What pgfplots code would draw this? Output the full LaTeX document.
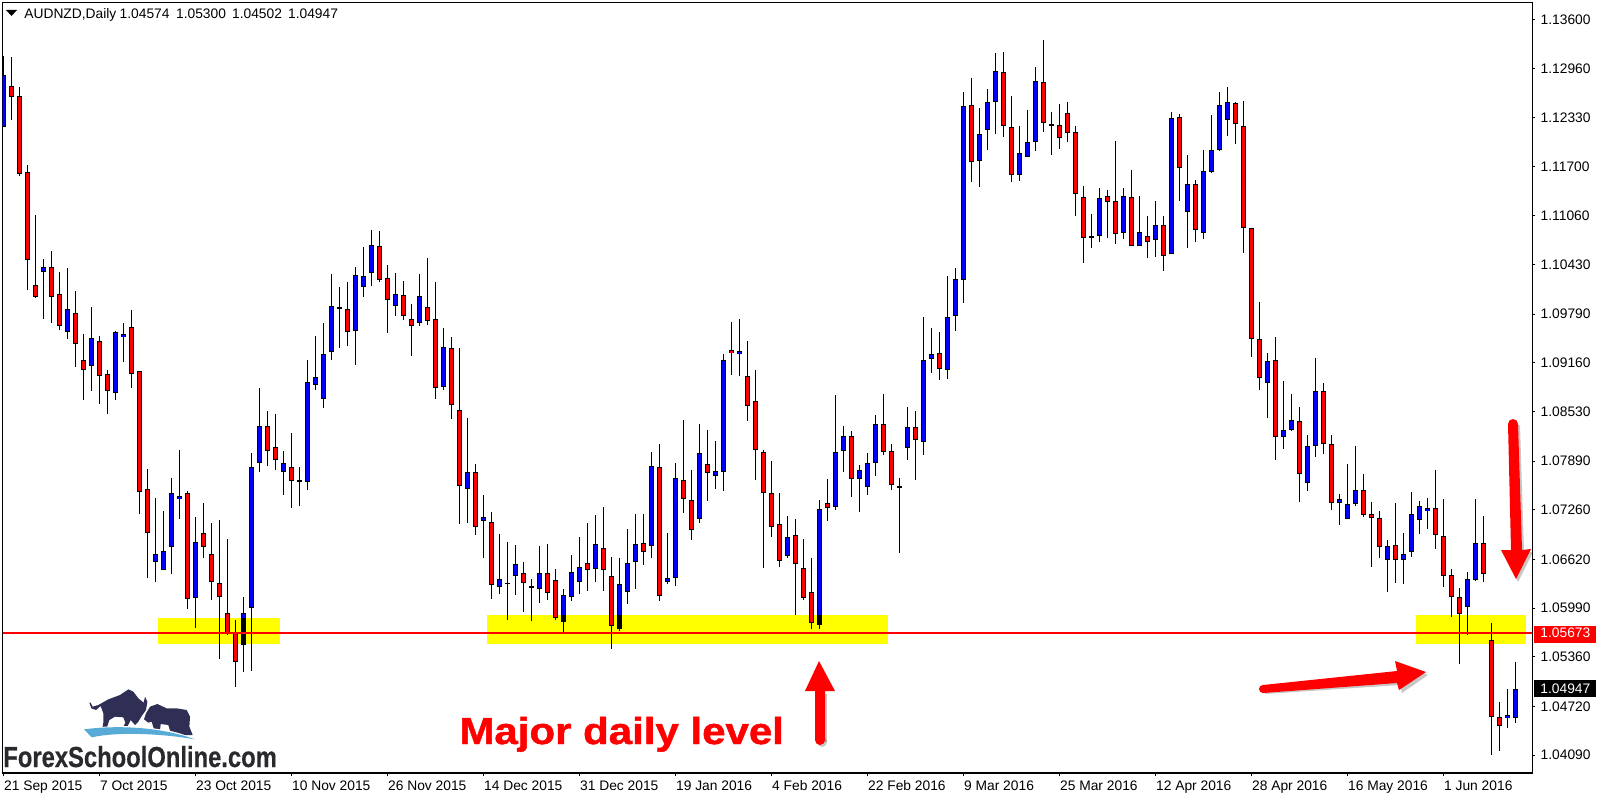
\documentclass[border=0pt]{standalone}
\usepackage{fontspec}
\usepackage{pgfplots}
\usepackage{pgfplotstable}
\pgfplotsset{compat=1.18}
\setmainfont{Liberation Sans}
\newfontfamily\heavyfont[UprightFont={* Bold}, FakeBold=1.2]{Liberation Sans}
\newfontfamily\logofont[UprightFont={* Bold}, FakeBold=0.5]{Liberation Sans}
\newcommand{\ticksize}{\fontsize{6.9}{8}\selectfont}

% daily bars, oldest first
\pgfplotstableread{
o h l c
1.12209 1.13127 1.12209 1.12881
1.12739 1.13114 1.12299 1.12597
1.12610 1.12726 1.11576 1.11602
1.11627 1.11718 1.10102 1.10490
1.10167 1.11071 1.09998 1.10011
1.10335 1.10503 1.09727 1.10399
1.10399 1.10606 1.09676 1.10011
1.10050 1.10335 1.09585 1.09637
1.09559 1.10386 1.09469 1.09857
1.09805 1.10089 1.09106 1.09404
1.09197 1.09533 1.08680 1.09068
1.09119 1.09882 1.08796 1.09481
1.09442 1.09507 1.08628 1.08990
1.09016 1.09068 1.08499 1.08796
1.08770 1.09572 1.08680 1.09559
1.09494 1.09676 1.09171 1.09533
1.09624 1.09843 1.08835 1.09016
1.09055 1.09055 1.07206 1.07490
1.07529 1.07788 1.06379 1.06960
1.06586 1.07413 1.06327 1.06689
1.06483 1.07245 1.06483 1.06728
1.06779 1.07671 1.06431 1.07477
1.07400 1.08033 1.07141 1.07439
1.07477 1.07503 1.05978 1.06107
1.06120 1.07167 1.05732 1.06844
1.06960 1.07348 1.06637 1.06779
1.06689 1.07090 1.06094 1.06327
1.06314 1.07129 1.05331 1.06133
1.05926 1.06883 1.05642 1.05655
1.05668 1.05835 1.04969 1.05293
1.05512 1.06133 1.05163 1.05926
1.05991 1.07995 1.05176 1.07814
1.07865 1.08835 1.07749 1.08344
1.08344 1.08537 1.07827 1.08020
1.08072 1.08499 1.07775 1.07904
1.07749 1.08020 1.07452 1.07865
1.07814 1.08253 1.07284 1.07633
1.07620 1.07814 1.07309 1.07646
1.07620 1.09197 1.07516 1.08913
1.08874 1.09507 1.08809 1.08977
1.08693 1.09676 1.08577 1.09275
1.09300 1.10309 1.09197 1.09895
1.09882 1.10141 1.09352 1.09857
1.09857 1.10205 1.09378 1.09559
1.09572 1.10399 1.09132 1.10296
1.10141 1.10658 1.10011 1.10283
1.10322 1.10877 1.10154 1.10684
1.10671 1.10865 1.10205 1.10231
1.10257 1.10425 1.09546 1.09973
1.09895 1.10322 1.09766 1.10050
1.10037 1.10218 1.09714 1.09766
1.09727 1.09921 1.09249 1.09637
1.09676 1.10309 1.09637 1.10024
1.09882 1.10516 1.09650 1.09701
1.09727 1.10205 1.08693 1.08835
1.08848 1.09611 1.08809 1.09365
1.09352 1.09494 1.08434 1.08615
1.08550 1.09352 1.07077 1.07568
1.07529 1.08447 1.07090 1.07749
1.07749 1.07852 1.06934 1.07038
1.07115 1.07452 1.06637 1.07167
1.07103 1.07232 1.06107 1.06288
1.06262 1.06947 1.06172 1.06366
1.06314 1.06844 1.05835 1.06314
1.06405 1.06805 1.06159 1.06560
1.06444 1.06586 1.05939 1.06314
1.06275 1.06366 1.05822 1.06262
1.06237 1.06792 1.06055 1.06444
1.06444 1.06818 1.06094 1.06185
1.06353 1.06495 1.05835 1.05861
1.05810 1.06237 1.05681 1.06159
1.06133 1.06676 1.06081 1.06456
1.06327 1.06909 1.06172 1.06521
1.06573 1.07090 1.06210 1.06483
1.06495 1.07193 1.06327 1.06818
1.06766 1.07296 1.06210 1.06483
1.06405 1.06650 1.05461 1.05758
1.05719 1.06637 1.05694 1.06301
1.06198 1.07012 1.06042 1.06573
1.06586 1.07206 1.06237 1.06818
1.06831 1.07206 1.06547 1.06715
1.06792 1.08007 1.06637 1.07827
1.07814 1.08111 1.06081 1.06146
1.06327 1.06960 1.06301 1.06379
1.06379 1.07865 1.06275 1.07671
1.07646 1.08421 1.07219 1.07400
1.07387 1.07775 1.06870 1.06999
1.07141 1.08369 1.07090 1.07995
1.07852 1.08292 1.07374 1.07736
1.07697 1.08150 1.07529 1.07762
1.07749 1.09275 1.07503 1.09197
1.09326 1.09688 1.09003 1.09287
1.09275 1.09727 1.08990 1.09313
1.08990 1.09442 1.08408 1.08602
1.08667 1.09068 1.07646 1.08033
1.08007 1.08033 1.06508 1.07477
1.07477 1.07891 1.06909 1.07038
1.07077 1.07477 1.06521 1.06599
1.06663 1.07180 1.06637 1.06909
1.06934 1.07141 1.05900 1.06560
1.06508 1.06883 1.06094 1.06120
1.06198 1.06637 1.05719 1.05797
1.05771 1.07387 1.05719 1.07271
1.07348 1.07658 1.07115 1.07284
1.07296 1.08744 1.07258 1.08007
1.08020 1.08344 1.07749 1.08214
1.08214 1.08279 1.07426 1.07658
1.07658 1.07839 1.07232 1.07775
1.07555 1.07995 1.07452 1.07865
1.07865 1.08486 1.07697 1.08369
1.08369 1.08757 1.07969 1.08007
1.08020 1.08111 1.07516 1.07581
1.07568 1.07671 1.06702 1.07542
1.08059 1.08589 1.07904 1.08331
1.08331 1.08537 1.07646 1.08163
1.08137 1.09753 1.07969 1.09197
1.09210 1.09611 1.09029 1.09275
1.09287 1.09559 1.08938 1.09081
1.09068 1.10283 1.08951 1.09753
1.09766 1.10386 1.09572 1.10244
1.10231 1.12662 1.09934 1.12481
1.12494 1.12843 1.11498 1.11757
1.11770 1.12455 1.11433 1.12119
1.12170 1.12700 1.11912 1.12532
1.12532 1.13166 1.12119 1.12933
1.12920 1.13179 1.12080 1.12222
1.12209 1.12610 1.11498 1.11589
1.11589 1.12222 1.11511 1.11873
1.11821 1.12429 1.11821 1.12015
1.12015 1.12985 1.11899 1.12804
1.12791 1.13334 1.12144 1.12261
1.12248 1.12403 1.11847 1.12222
1.12235 1.12506 1.11925 1.12067
1.12390 1.12532 1.12015 1.12132
1.12144 1.12222 1.11058 1.11343
1.11304 1.11446 1.10451 1.10774
1.10774 1.11084 1.10645 1.10800
1.10800 1.11420 1.10723 1.11291
1.11317 1.11395 1.10774 1.11240
1.11253 1.12028 1.10697 1.10826
1.10839 1.11420 1.10761 1.11317
1.11304 1.11653 1.10671 1.10671
1.10671 1.11317 1.10671 1.10852
1.10800 1.11058 1.10516 1.10723
1.10748 1.11253 1.10529 1.10942
1.10942 1.11058 1.10347 1.10541
1.10567 1.12403 1.10567 1.12325
1.12338 1.12377 1.11253 1.11679
1.11110 1.11847 1.10645 1.11472
1.11472 1.11524 1.10723 1.10877
1.10839 1.11912 1.10761 1.11640
1.11627 1.12364 1.11615 1.11912
1.11912 1.12662 1.11899 1.12494
1.12299 1.12726 1.12093 1.12532
1.12519 1.12532 1.11989 1.12248
1.12222 1.12545 1.10580 1.10903
1.10903 1.10903 1.09236 1.09469
1.09469 1.09947 1.08809 1.08964
1.08900 1.09287 1.08447 1.09184
1.09197 1.09494 1.07904 1.08201
1.08201 1.08925 1.08046 1.08292
1.08292 1.08757 1.08279 1.08421
1.08408 1.08589 1.07361 1.07723
1.07607 1.08227 1.07503 1.08085
1.08085 1.09223 1.07943 1.08796
1.08796 1.08900 1.07982 1.08111
1.08111 1.08227 1.07258 1.07348
1.07348 1.07464 1.07064 1.07400
1.07141 1.07852 1.07141 1.07335
1.07335 1.08085 1.07309 1.07516
1.07516 1.07723 1.07167 1.07193
1.07206 1.07361 1.06521 1.07154
1.07154 1.07245 1.06637 1.06779
1.06611 1.06870 1.06198 1.06792
1.06805 1.07348 1.06314 1.06611
1.06611 1.06960 1.06301 1.06689
1.06715 1.07490 1.06650 1.07206
1.07129 1.07374 1.06947 1.07309
1.07245 1.07413 1.07012 1.07284
1.07284 1.07775 1.06753 1.06934
1.06922 1.07400 1.06262 1.06405
1.06418 1.06495 1.05874 1.06133
1.06133 1.06249 1.05267 1.05913
1.06004 1.06456 1.05642 1.06366
1.06353 1.07400 1.06340 1.06831
1.06831 1.07180 1.06327 1.06431
1.05577 1.05797 1.04090 1.04581
1.04581 1.04775 1.04142 1.04465
1.04568 1.04943 1.04439 1.04607
1.04574 1.05300 1.04502 1.04947
}\candles

\definecolor{logoink}{HTML}{2F2F55}
\definecolor{logotext}{HTML}{2A2A2E}
\definecolor{zone}{RGB}{255,255,0}
\definecolor{swoosh}{RGB}{88,170,215}

\begin{document}
\begin{tikzpicture}
\path[use as bounding box] (0,0) rectangle (800pt,400pt);
\begin{axis}[
  at={(1.35pt,13.5pt)}, anchor=south west,
  scale only axis, width=764.8pt, height=385.35pt,
  xmin=-0.08, xmax=191.12, ymin=1.03858, ymax=1.13821,
  axis line style={line width=0.6pt},
  tick style={black, line width=0.5pt},
  major tick length=1.5pt, tick align=outside,
  xtick pos=bottom, ytick pos=right, yticklabel pos=right,
  xtick={0,12,...,180},
  xticklabels={21 Sep 2015,7 Oct 2015,23 Oct 2015,10 Nov 2015,26 Nov 2015,14 Dec 2015,31 Dec 2015,19 Jan 2016,4 Feb 2016,22 Feb 2016,9 Mar 2016,25 Mar 2016,12 Apr 2016,28 Apr 2016,16 May 2016,1 Jun 2016},
  x tick label style={anchor=north west, inner sep=0pt, xshift=0.2pt, yshift=-2pt, font=\ticksize},
  ytick={1.0409,1.0472,1.0536,1.0599,1.0662,1.0726,1.0789,1.0853,1.0916,1.0979,1.1043,1.1106,1.117,1.1233,1.1296,1.136},
  scaled y ticks=false,
  y tick label style={anchor=west, inner sep=0pt, xshift=2.5pt, font=\ticksize,
    /pgf/number format/fixed, /pgf/number format/fixed zerofill,
    /pgf/number format/precision=5, /pgf/number format/assume math mode=true},
  candle/.style={only marks, mark size=0pt, mark options={draw=none, fill=none}, forget plot,
    error bars/.cd, y dir=both, y explicit, error mark=none, error bar style={#1}},
]
% wicks
\addplot[candle={black, line width=0.5pt}] table[x expr=\coordindex,
  y expr=(\thisrow{h}+\thisrow{l})/2, y error expr=(\thisrow{h}-\thisrow{l})/2] {\candles};
% body outlines
\addplot[candle={black, line width=2.5pt}] table[x expr=\coordindex,
  y expr=(\thisrow{o}+\thisrow{c})/2, y error expr={max(abs(\thisrow{o}-\thisrow{c})/2,0.00007)}] {\candles};
% up bodies
\addplot[candle={blue, line width=1.5pt}] table[x expr=\coordindex,
  y expr=(\thisrow{o}+\thisrow{c})/2,
  y error expr={\thisrow{c}>\thisrow{o} ? max(abs(\thisrow{o}-\thisrow{c})/2-0.00013,0) : 0}] {\candles};
% down bodies
\addplot[candle={red, line width=1.5pt}] table[x expr=\coordindex,
  y expr=(\thisrow{o}+\thisrow{c})/2,
  y error expr={\thisrow{c}<\thisrow{o} ? max(abs(\thisrow{o}-\thisrow{c})/2-0.00013,0) : 0}] {\candles};
% marked zones
\addplot[fill=zone, draw=none, blend mode=multiply, forget plot] coordinates {(19.33,1.05861)(34.58,1.05861)(34.58,1.05525)(19.33,1.05525)} --cycle;
\addplot[fill=zone, draw=none, blend mode=multiply, forget plot] coordinates {(60.46,1.05900)(110.58,1.05900)(110.58,1.05525)(60.46,1.05525)} --cycle;
\addplot[fill=zone, draw=none, blend mode=multiply, forget plot] coordinates {(176.58,1.05900)(190.33,1.05900)(190.33,1.05525)(176.58,1.05525)} --cycle;
% level line
\addplot[red, line width=1pt, forget plot] coordinates {(-0.08,1.05673)(191.12,1.05673)};
\end{axis}

% annotations, in image pixels from the top left
\begin{scope}[shift={(0,400pt)}, x=0.5pt, y=-0.5pt]
  \fill[black] (6,10) -- (17,10) -- (11.5,16) -- cycle;
  \node[anchor=base west, inner sep=0pt, font=\ticksize] at (24,18.5) {AUDNZD,Daily};
  \node[anchor=base west, inner sep=0pt, font=\ticksize] at (119.3,18.5) {1.04574};
  \node[anchor=base west, inner sep=0pt, font=\ticksize] at (175.7,18.5) {1.05300};
  \node[anchor=base west, inner sep=0pt, font=\ticksize] at (231.7,18.5) {1.04502};
  \node[anchor=base west, inner sep=0pt, font=\ticksize] at (287.7,18.5) {1.04947};

  \fill[red] (1534,626) rectangle (1596,643);
  \node[anchor=base west, inner sep=0pt, font=\ticksize, text=white] at (1540,637) {1.05673};
  \fill[black] (1534,680) rectangle (1596,697);
  \node[anchor=base west, inner sep=0pt, font=\ticksize, text=white] at (1540,693) {1.04947};

  \node[anchor=base west, inner sep=0pt, text=red, xscale=1.12, font=\fontsize{18.75}{20}\heavyfont] at (459,744) {Major daily level};

  % arrows: shadow, then arrow
  \fill[black, opacity=0.22] (817,694) -- (817,742) -- (827,742) -- (827,694) -- cycle;
  \fill[black, opacity=0.22] (822,742) circle[radius=5];
  \fill[red] (805,691) -- (819,661) -- (835,691) -- (825,691) -- (825,740) -- (815,740) -- (815,691) -- cycle;
  \fill[red] (820,740) circle[radius=5];

  \fill[black, opacity=0.22] (1265,694) -- (1400,685) -- (1402,693) -- (1428,675) -- (1400,664) -- (1400,675) -- (1265,686) -- cycle;
  \fill[red] (1263,685) -- (1397,671) -- (1395,661) -- (1426,672) -- (1399,690) -- (1397,683) -- (1263,693) -- cycle;
  \fill[red] (1263,689) circle[radius=4];

  \fill[black, opacity=0.22] (1510,425) -- (1520,425) -- (1524,552) -- (1533,552) -- (1518,582) -- (1503,552) -- (1513,552) -- cycle;
  \fill[red] (1508,424) -- (1518,424) -- (1522,550) -- (1531,549) -- (1516,579) -- (1501,550) -- (1511,550) -- cycle;
  \fill[red] (1513,424) circle[radius=5];

  % logo
  \begin{scope}[shift={(70,680)}, x=0.1667pt, y=-0.1667pt]
    \fill[logoink] (58,68) -- (64,85) -- (78,90) -- (92,78) -- (100,100) -- (100,128) -- (97,145) -- (110,145) -- (118,120) -- (135,110) -- (160,112) -- (166,128) -- (160,140) -- (172,140) -- (182,120) -- (195,135) -- (205,125) -- (215,108) -- (228,90) -- (232,65) -- (225,50) -- (221,68) -- (205,55) -- (190,35) -- (175,28) -- (150,45) -- (115,58) -- (85,75) -- (68,80) -- (62,68) -- cycle;
    \fill[logoink] (222,118) -- (235,128) -- (245,125) -- (252,148) -- (270,150) -- (272,132) -- (295,135) -- (300,152) -- (330,160) -- (345,165) -- (368,165) -- (358,140) -- (360,110) -- (350,90) -- (320,85) -- (290,85) -- (262,72) -- (240,80) -- (228,100) -- cycle;
    \fill[white] (42,148) .. controls (140,130) and (270,135) .. (375,178) .. controls (270,155) and (140,150) .. (65,172) -- cycle;
    \fill[swoosh] (42,148) .. controls (140,135) and (270,140) .. (375,178) .. controls (270,160) and (140,155) .. (65,172) -- cycle;
  \end{scope}
  \node[anchor=base west, inner sep=0pt, text=logotext, xscale=0.82, font=\fontsize{14.5}{16}\logofont] at (3,767) {ForexSchoolOnline.com};
\end{scope}
\end{tikzpicture}
\end{document}
